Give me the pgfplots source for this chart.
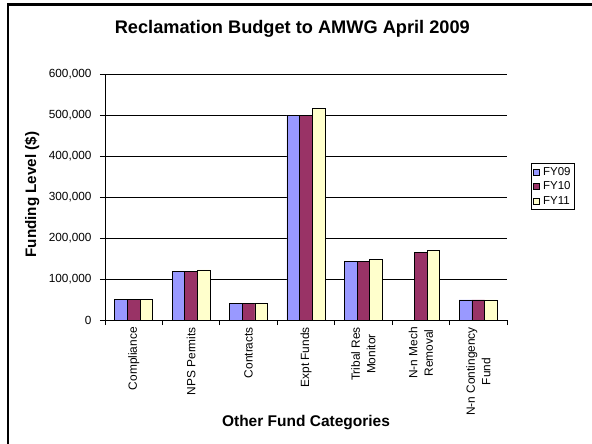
\documentclass[border=0pt]{standalone}
\usepackage{pgfplots}
\pgfplotsset{compat=1.18}
\usepackage{fontspec}
\setmainfont{Liberation Sans}

\definecolor{fyA}{HTML}{9999FF}
\definecolor{fyB}{HTML}{993366}
\definecolor{fyC}{HTML}{FFFFCC}

\begin{document}
\begin{tikzpicture}
\begin{axis}[
  scale only axis,
  width=402bp, height=246bp,
  at={(0,0)}, anchor=south west,
  ybar=0pt,
  bar width=0.221,
  xmin=-0.5, xmax=6.5,
  ymin=0, ymax=600000,
  xtick={-0.5,0.5,...,6.5},
  x tick label as interval,
  xticklabels={Compliance,NPS Permits,Contracts,Expt Funds,{Tribal Res\\Monitor},{N-n Mech\\Removal},{N-n Contingency\\Fund}},
  xticklabel style={rotate=90, anchor=east, align=center, font=\fontsize{11.9bp}{15.5bp}\selectfont, inner sep=2bp},
  ytick={0,100000,...,600000},
  scaled y ticks=false,
  yticklabel style={font=\fontsize{11.8bp}{13bp}\selectfont, /pgf/number format/fixed, /pgf/number format/1000 sep={,}, /pgf/number format/assume math mode=true, xshift=-5bp},
  tick align=outside,
  major tick length=5bp,
  tick style={black, line width=0.8bp},
  axis x line*=bottom,
  axis y line*=left,
  axis line style={black, line width=0.9bp, -},
  ymajorgrids,
  major grid style={black, line width=0.7bp},
  title={Reclamation Budget to AMWG April 2009},
  title style={font=\bfseries\fontsize{18.2bp}{20bp}\selectfont, at={(axis description cs:0.466,1.1585)}, anchor=center},
  xlabel={Other Fund Categories},
  xlabel style={font=\bfseries\fontsize{15.5bp}{17bp}\selectfont, at={(axis description cs:0.5,-0.4187)}, anchor=center},
  ylabel={Funding Level (\$)},
  ylabel style={font=\bfseries\fontsize{15.2bp}{17bp}\selectfont, at={(axis description cs:-0.1816,0.51)}, anchor=center},
  legend style={at={(axis description cs:1.114,0.543)}, anchor=center, draw=black, line width=0.8bp,
    font=\fontsize{11.5bp}{13bp}\selectfont, inner sep=2bp, row sep=1bp,
    /tikz/every odd column/.append style={column sep=1.5bp}},
  legend image code/.code={\draw[#1, line width=0.6bp] (0bp,-3bp) rectangle (6bp,3bp);},
  legend cell align=left,
  every axis plot/.append style={draw=black, line width=0.8bp},
]
\addplot[fill=fyA] coordinates {(0,50000) (1,118000) (2,40000) (3,500000) (4,142000) (6,49000)};
\addplot[fill=fyB] coordinates {(0,50000) (1,118000) (2,40000) (3,500000) (4,142000) (5,164000) (6,49000)};
\addplot[fill=fyC] coordinates {(0,51000) (1,122000) (2,40000) (3,515000) (4,147000) (5,169000) (6,49000)};
\legend{FY09,FY10,FY11}
\draw[gray, line width=0.9bp] (rel axis cs:1,0) -- (rel axis cs:1,1);
\end{axis}
\pgfresetboundingbox
\path[use as bounding box] (-105bp,-124bp) rectangle (487bp,320bp);
\draw[line width=2.2bp] (-97bp,-130bp) -- (-97bp,315.5bp) -- (495bp,315.5bp);
\end{tikzpicture}
\end{document}
